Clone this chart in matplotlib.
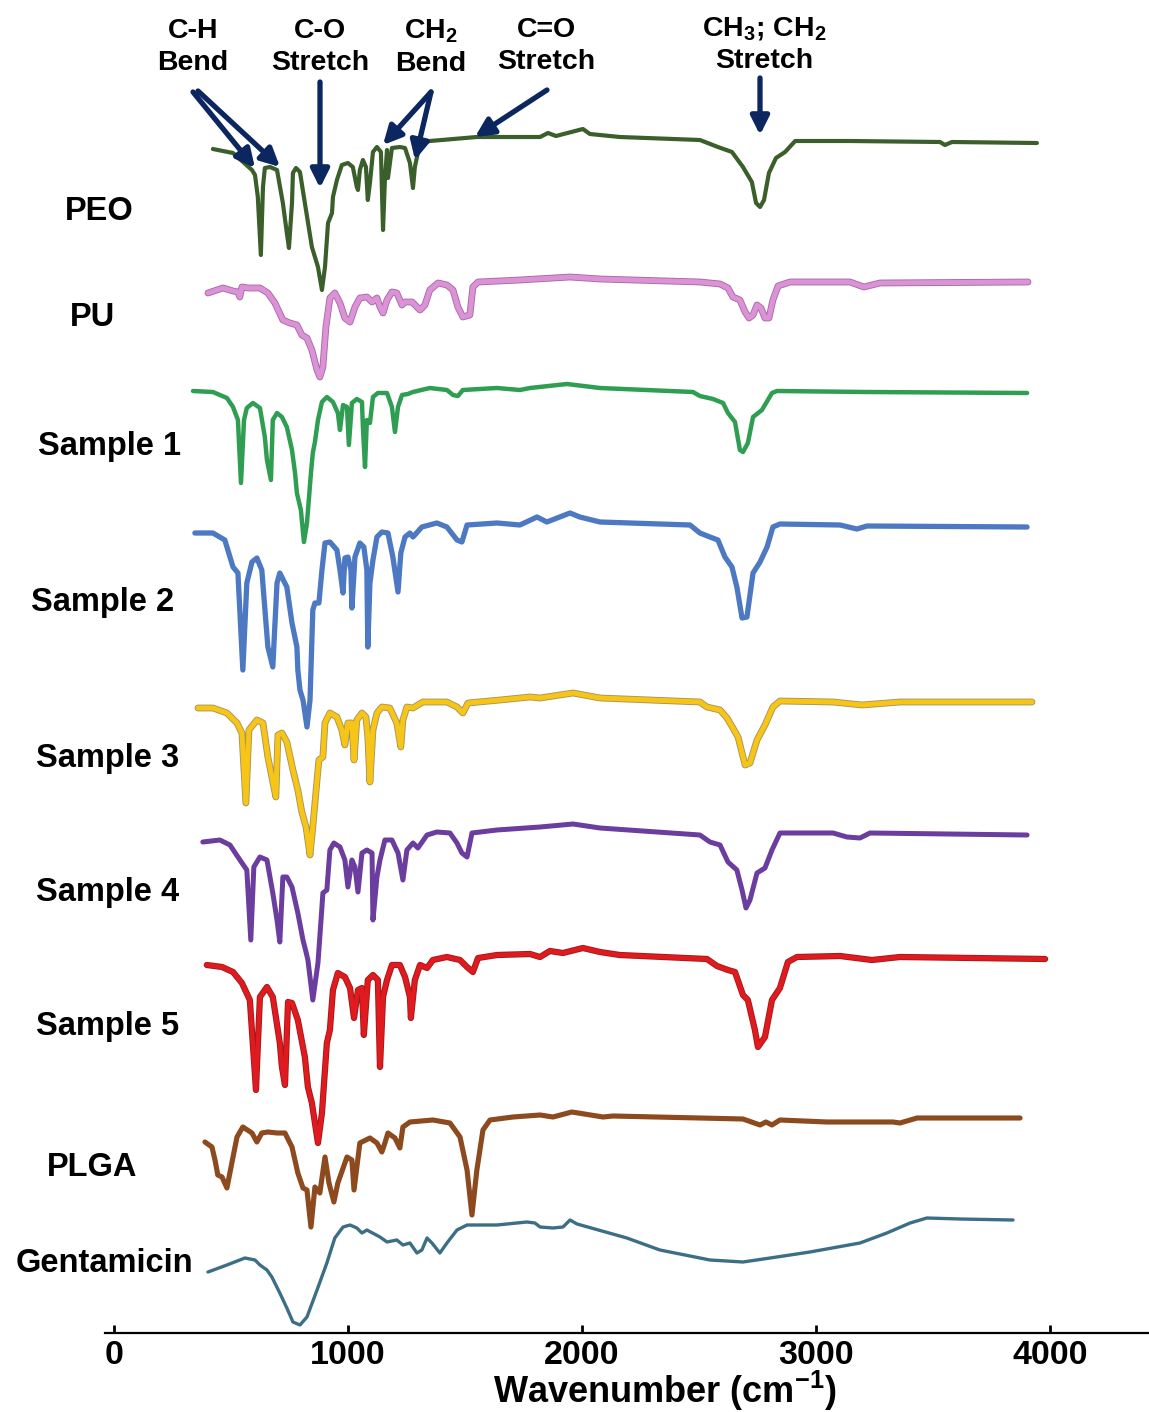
import numpy as np
import matplotlib.pyplot as plt
import matplotlib.patheffects as pe
from matplotlib.patches import FancyArrowPatch

plt.rcParams['font.family'] = ['Liberation Sans', 'DejaVu Sans']
plt.rcParams['font.weight'] = 'bold'
plt.rcParams['mathtext.fontset'] = 'custom'
plt.rcParams['mathtext.rm'] = 'Liberation Sans:bold'
plt.rcParams['mathtext.it'] = 'Liberation Sans:bold'
plt.rcParams['mathtext.bf'] = 'Liberation Sans:bold'
plt.rcParams['mathtext.default'] = 'rm'

# FTIR spectra: (wavenumber cm-1, relative transmittance a.u.)
peo = [(423, -8), (509, -12), (590, -29), (603, -34), (615, -56), (628, -114), (637, -46),
       (645, -27), (667, -26), (697, -29), (722, -62), (739, -92), (748, -107), (761, -62),
       (765, -32), (778, -27), (795, -31), (816, -62), (846, -106), (863, -119), (872, -126),
       (889, -149), (902, -126), (915, -82), (932, -72), (936, -56), (953, -39), (974, -24),
       (1000, -22), (1021, -26), (1038, -46), (1043, -49), (1051, -29), (1064, -19), (1077, -26),
       (1085, -59), (1094, -42), (1107, -11), (1124, -6), (1141, -11), (1150, -89), (1158, -39),
       (1167, -9), (1171, -37), (1188, -7), (1222, -6), (1244, -7), (1265, -22), (1278, -47),
       (1286, -26), (1308, -2), (1350, 0), (1551, 4), (1821, 4), (1855, 8), (1889, 5), (2004, 12),
       (2034, 7), (2162, 4), (2504, 1), (2581, -6), (2641, -11), (2688, -26), (2726, -41),
       (2744, -62), (2761, -66), (2778, -59), (2799, -32), (2829, -17), (2868, -11), (2911, 0),
       (3145, 0), (3530, -1), (3551, -4), (3581, -1), (3944, -2)]

pu = [(402, -12), (466, -7), (509, -10), (530, -11), (538, -16), (547, -6), (573, -7), (624, -7),
      (658, -12), (688, -22), (722, -39), (752, -42), (782, -44), (803, -54), (825, -57),
      (846, -69), (868, -89), (880, -96), (893, -86), (906, -46), (923, -17), (944, -12),
      (966, -22), (987, -37), (1009, -41), (1030, -26), (1051, -17), (1081, -16), (1103, -21),
      (1124, -17), (1137, -26), (1150, -32), (1167, -19), (1188, -11), (1209, -12), (1231, -24),
      (1244, -21), (1274, -21), (1308, -29), (1329, -24), (1350, -9), (1385, -2), (1423, -4),
      (1449, -9), (1470, -26), (1491, -36), (1521, -34), (1534, -6), (1556, -1), (1735, 1),
      (1949, 4), (2077, 2), (2504, -1), (2590, -3), (2624, -7), (2645, -16), (2675, -19),
      (2697, -31), (2714, -37), (2731, -34), (2748, -24), (2765, -27), (2782, -37), (2799, -37),
      (2816, -19), (2838, -5), (2889, -1), (3145, -1), (3205, -6), (3273, -2), (3906, -1)]

sample1 = [(338, 1), (423, 0), (483, -6), (509, -15), (530, -28), (543, -91), (556, -28),
           (568, -16), (594, -11), (624, -16), (645, -45), (654, -68), (671, -88), (679, -28),
           (697, -21), (718, -25), (739, -35), (761, -58), (774, -81), (782, -101), (799, -118),
           (812, -150), (825, -131), (842, -81), (850, -61), (859, -50), (872, -28), (889, -10),
           (910, -5), (936, -10), (957, -21), (966, -38), (979, -13), (996, -15), (1004, -53),
           (1017, -11), (1038, -7), (1060, -10), (1064, -35), (1073, -75), (1081, -28), (1094, -31),
           (1107, -5), (1128, -1), (1167, -1), (1188, -15), (1201, -40), (1214, -15), (1231, -3),
           (1256, -2), (1278, 0), (1350, 4), (1423, 2), (1449, -3), (1470, -4), (1491, 2),
           (1637, 4), (1735, 2), (1778, 4), (1936, 8), (2077, 4), (2474, 0), (2504, -4),
           (2560, -7), (2603, -11), (2624, -21), (2654, -30), (2675, -58), (2688, -60),
           (2709, -51), (2731, -25), (2769, -18), (2812, -1), (2833, 1), (3218, 0), (3902, -1)]

sample2 = [(346, -8), (423, -8), (474, -15), (509, -42), (530, -48), (551, -145), (568, -58),
           (590, -37), (611, -33), (632, -45), (658, -122), (679, -142), (697, -58), (709, -48),
           (739, -62), (761, -98), (782, -122), (786, -145), (795, -165), (808, -175), (825, -202),
           (838, -175), (850, -85), (859, -78), (876, -78), (889, -45), (902, -18), (923, -17),
           (953, -25), (966, -45), (979, -68), (987, -33), (1000, -32), (1013, -45), (1017, -83),
           (1030, -32), (1051, -18), (1068, -22), (1081, -45), (1085, -122), (1094, -58),
           (1107, -35), (1124, -12), (1145, -7), (1171, -8), (1192, -32), (1214, -67), (1226, -28),
           (1244, -12), (1265, -8), (1278, -12), (1316, -2), (1380, 2), (1423, -2), (1466, -15),
           (1487, -17), (1509, 0), (1637, 2), (1735, 0), (1808, 8), (1850, 3), (1949, 12),
           (1991, 8), (2077, 3), (2462, 0), (2504, -8), (2547, -12), (2581, -15), (2611, -32),
           (2641, -42), (2662, -62), (2684, -93), (2705, -92), (2731, -48), (2761, -37),
           (2791, -22), (2816, -2), (2846, 1), (3103, 0), (3175, -4), (3218, -1), (3902, -2)]

sample3 = [(359, -6), (423, -6), (483, -11), (526, -21), (547, -31), (564, -101), (577, -28),
           (611, -18), (637, -21), (658, -55), (675, -75), (692, -95), (701, -33), (718, -31),
           (739, -40), (765, -68), (786, -88), (803, -110), (821, -125), (838, -153), (850, -125),
           (868, -78), (876, -58), (893, -55), (902, -21), (923, -11), (953, -15), (974, -28),
           (987, -43), (1000, -21), (1017, -21), (1026, -58), (1038, -18), (1060, -11),
           (1077, -15), (1085, -35), (1094, -80), (1107, -28), (1124, -11), (1145, -5),
           (1179, -6), (1209, -21), (1226, -45), (1235, -18), (1252, -5), (1278, -6), (1320, 0),
           (1423, 0), (1466, -5), (1491, -11), (1513, -1), (1650, 2), (1778, 5), (1821, 4),
           (1962, 9), (2077, 4), (2504, 0), (2534, -5), (2590, -8), (2620, -16), (2645, -26),
           (2667, -35), (2697, -63), (2718, -61), (2748, -38), (2782, -23), (2816, -5),
           (2846, 1), (3073, 0), (3197, -3), (3359, 0), (3923, 0)]

sample4 = [(380, -8), (453, -6), (496, -11), (530, -23), (568, -36), (585, -106), (598, -33),
           (624, -23), (654, -26), (679, -59), (697, -86), (709, -108), (722, -43), (739, -43),
           (761, -53), (786, -79), (808, -106), (821, -118), (829, -126), (850, -166), (872, -129),
           (889, -73), (893, -59), (910, -56), (923, -16), (940, -9), (966, -13), (987, -26),
           (1000, -53), (1017, -26), (1030, -33), (1043, -58), (1060, -19), (1081, -16),
           (1103, -19), (1107, -86), (1124, -43), (1137, -26), (1158, -6), (1188, -6),
           (1214, -19), (1235, -46), (1252, -16), (1278, -9), (1299, -14), (1338, -1), (1380, 2),
           (1436, 1), (1466, -9), (1487, -19), (1509, -23), (1530, 1), (1637, 4), (1821, 7),
           (1962, 10), (2077, 6), (2504, -1), (2547, -8), (2590, -11), (2624, -28), (2662, -36),
           (2684, -56), (2701, -74), (2718, -66), (2748, -39), (2782, -34), (2812, -16),
           (2846, 1), (3073, 1), (3132, -3), (3188, -4), (3231, 1), (3902, -1)]

sample5 = [(397, -8), (462, -10), (509, -15), (547, -26), (581, -43), (607, -133), (624, -40),
           (654, -30), (679, -40), (709, -86), (718, -110), (731, -128), (744, -45), (761, -46),
           (786, -63), (816, -100), (829, -130), (846, -146), (872, -186), (889, -156), (910, -86),
           (923, -73), (936, -33), (957, -16), (987, -20), (1009, -31), (1026, -61), (1043, -33),
           (1060, -31), (1068, -78), (1085, -23), (1107, -18), (1128, -23), (1137, -110),
           (1150, -40), (1167, -23), (1188, -8), (1222, -8), (1244, -20), (1265, -40), (1269, -61),
           (1286, -23), (1308, -8), (1338, -11), (1363, -3), (1423, 0), (1479, -3), (1509, -10),
           (1534, -15), (1556, -1), (1637, 2), (1778, 3), (1821, 0), (1863, 6), (1919, 4),
           (2004, 9), (2077, 5), (2162, 2), (2534, -2), (2577, -9), (2624, -13), (2654, -15),
           (2688, -38), (2709, -43), (2739, -73), (2752, -90), (2782, -80), (2812, -43),
           (2846, -31), (2880, -5), (2919, 0), (3103, 1), (3239, -3), (3359, 0), (3979, -2)]

plga = [(389, -24), (419, -29), (432, -42), (444, -57), (462, -59), (483, -70), (504, -45),
        (526, -19), (551, -9), (590, -15), (611, -24), (632, -15), (658, -14), (697, -15),
        (731, -15), (761, -29), (786, -55), (808, -70), (825, -72), (842, -109), (859, -69),
        (880, -75), (902, -39), (919, -65), (940, -84), (957, -65), (996, -39), (1017, -42),
        (1026, -72), (1051, -25), (1094, -20), (1124, -25), (1145, -34), (1158, -25), (1171, -15),
        (1201, -20), (1222, -30), (1235, -9), (1265, -4), (1363, -2), (1436, -5), (1479, -19),
        (1509, -52), (1530, -97), (1551, -52), (1577, -12), (1607, -2), (1705, 1), (1821, 3),
        (1876, 1), (1957, 6), (2090, 1), (2132, 2), (2688, -1), (2761, -7), (2786, -4),
        (2812, -7), (2846, -2), (3047, -4), (3329, -4), (3359, -5), (3432, 0), (3872, 0)]

gentamicin = [(402, -52), (483, -45), (560, -38), (603, -40), (624, -45), (654, -50), (675, -57),
              (709, -73), (739, -88), (765, -102), (795, -105), (825, -97), (868, -70), (910, -43),
              (944, -18), (979, -7), (1009, -5), (1038, -8), (1060, -13), (1081, -10), (1137, -17),
              (1167, -22), (1209, -20), (1235, -25), (1265, -23), (1295, -33), (1316, -30),
              (1338, -18), (1359, -23), (1393, -33), (1423, -23), (1466, -10), (1509, -5),
              (1637, -5), (1765, -2), (1799, -3), (1821, -7), (1876, -8), (1919, -7), (1949, 0),
              (1979, -4), (2192, -18), (2333, -30), (2547, -40), (2688, -42), (2833, -37),
              (2974, -32), (3188, -23), (3303, -13), (3402, -3), (3474, 2), (3615, 1), (3842, 0)]

names = ['PEO', 'PU', 'Sample 1', 'Sample 2', 'Sample 3', 'Sample 4', 'Sample 5', 'PLGA', 'Gentamicin']
spectra = [peo, pu, sample1, sample2, sample3, sample4, sample5, plga, gentamicin]

# styling / stacking
colors = ['#3b5f2b', '#dc92d6', '#2f9e52', '#4d78c2', '#f6c518', '#6a3d9e', '#e01b1f', '#8c4a1e', '#3c6e86']
edges = [None, '#a86aa6', None, None, '#a8955a', None, '#a41818', None, None]
widths = [3.0, 3.6, 3.2, 3.8, 3.6, 3.6, 3.2, 3.7, 2.4]
offsets = [141, 281, 392, 525, 702, 834, 957, 1118, 1220]
label_pos = [(99, 211), (92, 318), (110, 446), (103, 602), (108, 758),
             (108, 893), (108, 1026), (92, 1168), (104, 1263)]

W, H = 1149, 1412
fig = plt.figure(figsize=(W / 100, H / 100), dpi=100)
ax = fig.add_axes([105 / W, 1 - 1333 / H, 1044 / W, 1333 / H])


def fpx(x, y):
    return x / W, 1 - y / H


for data, col, edge, lw, off in zip(spectra, colors, edges, widths, offsets):
    arr = np.array(data, dtype=float)
    line, = ax.plot(arr[:, 0], arr[:, 1] - off, color=col, lw=lw,
                    solid_joinstyle='round', solid_capstyle='round')
    if edge is not None:
        line.set_path_effects([pe.Stroke(linewidth=lw + 1.3, foreground=edge), pe.Normal()])

ax.set_xlim(-38, 4423)
ax.set_ylim(-1333, 0)
ax.set_yticks([])
ax.set_xticks([0, 1000, 2000, 3000, 4000])
ax.tick_params(axis='x', direction='in', length=6, width=2, labelsize=24.5, pad=5)
for s in ['left', 'right', 'top']:
    ax.spines[s].set_visible(False)
ax.spines['bottom'].set_linewidth(1.6)
ax.patch.set_alpha(0)

fig.text(*fpx(665, 1391), 'Wavenumber (cm$^{-1}$)', fontsize=26, ha='center', va='center')

for name, (x, y) in zip(names, label_pos):
    fig.text(*fpx(x, y), name, fontsize=23.5, ha='center', va='center')

# band annotations
notes = [('C-H\nBend', 193, 47), ('C-O\nStretch', 320, 47), ('CH$_2$\nBend', 431, 47),
         ('C=O\nStretch', 546, 46), ('CH$_3$; CH$_2$\nStretch', 764, 44)]
for txt, x, y in notes:
    fig.text(*fpx(x, y), txt, fontsize=20.5, ha='center', va='center', linespacing=1.3)

arrows = [((193, 92), (255, 168)), ((198, 91), (280, 167)), ((320, 82), (320, 188)),
          ((431, 92), (383, 145)), ((431, 92), (415, 160)), ((547, 90), (475, 137)),
          ((760, 78), (760, 135))]
for (x0, y0), (x1, y1) in arrows:
    arr = FancyArrowPatch(fpx(x0, y0), fpx(x1, y1), transform=fig.transFigure,
                          arrowstyle='-|>,head_length=11,head_width=5.5',
                          color='#0c2660', lw=3.8, shrinkA=0, shrinkB=0)
    fig.patches.append(arr)

fig.savefig('out.png', dpi=100)
